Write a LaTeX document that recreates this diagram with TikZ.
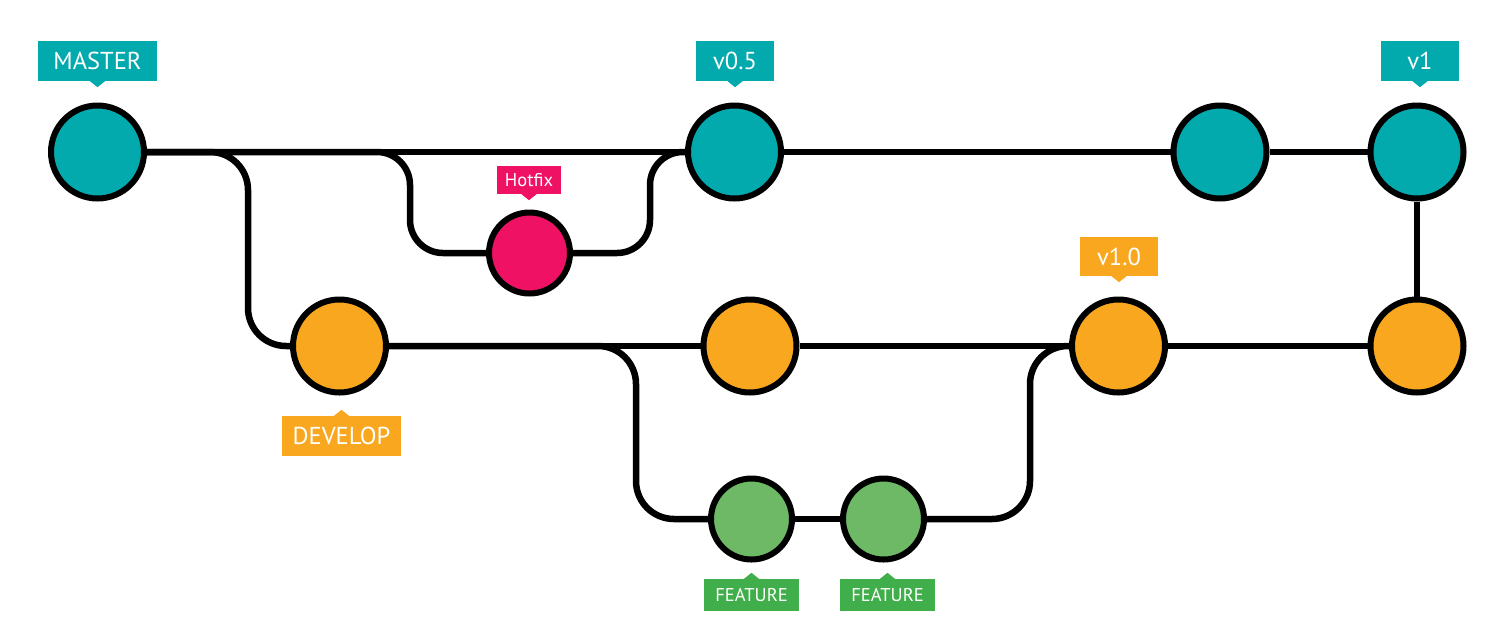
\documentclass[tikz,border=0pt]{standalone}
\usepackage{fontspec}
\setmainfont{PT Sans}
\usetikzlibrary{backgrounds,calc}
\definecolor{teal}{HTML}{02A9AD}
\definecolor{orng}{HTML}{F8A71E}
\definecolor{pink}{HTML}{EE1164}
\definecolor{grn}{HTML}{6DB965}
\definecolor{grnlab}{HTML}{40AE4A}
\tikzset{
  commit/.style={circle, draw=black, line width=6pt, inner sep=0pt, minimum size=93pt},
  smallcommit/.style={commit, minimum size=81pt},
  conn/.style={line width=6.5pt, draw=black},
  lab/.style={inner sep=0pt, text=white, font=\fontsize{24.5}{25}\selectfont, minimum height=40pt},
  smalllab/.style={lab, font=\fontsize{18.5}{19}\selectfont}
}
\newcommand{\ptrdown}[2]{\fill[#2] ($(#1.south)+(-7.5,0)$) -- ($(#1.south)+(7.5,0)$) -- ($(#1.south)+(0,6)$) -- cycle;}
\newcommand{\ptrup}[2]{\fill[#2] ($(#1.north)+(-7.5,0)$) -- ($(#1.north)+(7.5,0)$) -- ($(#1.north)+(0,-6)$) -- cycle;}
\begin{document}
\begin{tikzpicture}[x=1pt,y=-1pt]
\useasboundingbox (0,0) rectangle (1500,641);
% commits
\node[commit, fill=teal] (m1) at (97.5,152) {};
\node[commit, fill=teal] (v05) at (734.5,152) {};
\node[commit, fill=teal] (m3) at (1220,152) {};
\node[commit, fill=teal] (v1) at (1417,152) {};
\node[smallcommit, fill=pink] (h) at (529.5,253) {};
\node[commit, fill=orng] (d1) at (339.5,346) {};
\node[commit, fill=orng] (d2) at (750,346) {};
\node[commit, fill=orng] (v10) at (1118.5,346) {};
\node[commit, fill=orng] (d4) at (1417,346) {};
\node[smallcommit, fill=grn] (f1) at (751.5,519) {};
\node[smallcommit, fill=grn] (f2) at (883.5,519) {};
% bend points
\coordinate (c1) at (248,152);
\coordinate (c2) at (410,152);
\coordinate (c3) at (650,152);
\coordinate (c4) at (636,346);
\coordinate (c5) at (1030,346);
\begin{scope}[on background layer]
\draw[conn] (m1) -- (v05) -- (m3) -- (v1);
\draw[conn] (d1) -- (d2) -- (v10) -- (d4);
\draw[conn] (d4) -- (v1);
\draw[conn] (f1) -- (f2);
\draw[conn, rounded corners=38pt] (m1.east) -- (c1) |- (d1.west);
\draw[conn, rounded corners=33pt] (m1.east) -- (c2) |- (h.west);
\draw[conn, rounded corners=33pt] (h.east) -| (c3) -- (v05.west);
\draw[conn, rounded corners=38pt] (d1.east) -- (c4) |- (f1.west);
\draw[conn, rounded corners=38pt] (f2.east) -| (c5) -- (v10.west);
\end{scope}
% labels
\node[lab, fill=teal, minimum width=119pt] (lm) at (97.5,61) {MASTER};
\ptrdown{lm}{teal}
\node[lab, fill=teal, minimum width=78pt] (lv05) at (735,61) {v0.5};
\ptrdown{lv05}{teal}
\node[lab, fill=teal, minimum width=78pt] (lv1) at (1420,61) {v1};
\ptrdown{lv1}{teal}
\node[smalllab, fill=pink, minimum width=64pt, minimum height=28pt] (lh) at (529,180) {Hotfix};
\ptrdown{lh}{pink}
\node[lab, fill=orng, minimum width=78pt, minimum height=39pt] (lv10) at (1119,256.5) {v1.0};
\ptrdown{lv10}{orng}
\node[lab, fill=orng, minimum width=119pt] (ld) at (341.5,436) {DEVELOP};
\ptrup{ld}{orng}
\node[smalllab, fill=grnlab, minimum width=95pt, minimum height=32pt] (lf1) at (751.5,595) {FEATURE};
\ptrup{lf1}{grnlab}
\node[smalllab, fill=grnlab, minimum width=95pt, minimum height=32pt] (lf2) at (887.5,595) {FEATURE};
\ptrup{lf2}{grnlab}
\end{tikzpicture}
\end{document}
